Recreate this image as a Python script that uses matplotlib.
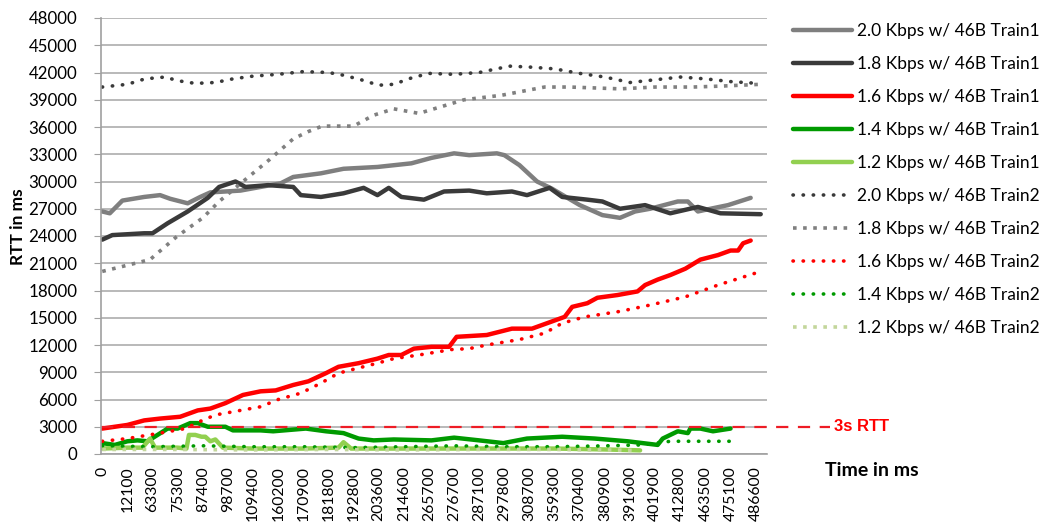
import matplotlib
matplotlib.use("Agg")
import matplotlib.pyplot as plt

# category labels along the time axis (one per tick)
time_labels = ["0", "12100", "63300", "75300", "87400", "98700", "109400", "160200",
               "170900", "181800", "192800", "203600", "214600", "265700", "276700",
               "287100", "297800", "308700", "359300", "370400", "380900", "391600",
               "401900", "412800", "463500", "475100", "486600"]

# Train1 runs (solid lines); x is the category position
t1_20_x = [0, 0.3, 0.8, 1.67, 2.3, 2.7, 3.4, 3.9, 4.3, 4.9, 5.5, 6.3, 7.1, 7.6, 8.7, 9.6,
           10.95, 12.3, 13.1, 14.0, 14.6, 15.7, 16.0, 16.6, 17.3, 17.9, 19.0, 19.9, 20.6,
           21.2, 21.8, 22.9, 23.3, 23.7, 24.2, 24.9, 25.8]
t1_20_y = [26700, 26500, 27900, 28300, 28500, 28100, 27600, 28300, 28800, 28900, 29000,
           29400, 29800, 30500, 30900, 31400, 31600, 32000, 32600, 33100, 32900, 33100,
           32900, 31800, 30000, 29200, 27400, 26300, 26000, 26700, 27000, 27800, 27800,
           26700, 27000, 27400, 28200]

t1_18_x = [0, 0.4, 1.67, 2.0, 2.6, 3.4, 4.2, 4.65, 5.3, 5.7, 6.6, 7.6, 7.9, 8.7, 9.6, 10.4,
           10.95, 11.4, 11.9, 12.8, 13.6, 14.6, 15.3, 16.3, 16.9, 17.8, 18.3, 19.3, 19.9,
           20.6, 21.6, 22.6, 23.7, 24.6, 26.2]
t1_18_y = [23600, 24100, 24300, 24300, 25400, 26700, 28200, 29400, 30000, 29400, 29600,
           29400, 28500, 28300, 28700, 29300, 28500, 29300, 28300, 28000, 28900, 29000,
           28700, 28900, 28500, 29300, 28300, 28000, 27800, 27000, 27400, 26500, 27200,
           26500, 26400]

t1_16_x = [0, 1.0, 1.67, 2.3, 3.1, 3.8, 4.3, 4.9, 5.6, 6.3, 6.9, 7.6, 8.2, 8.9, 9.4, 10.2,
           10.95, 11.4, 11.9, 12.4, 13.1, 13.8, 14.1, 15.3, 16.3, 17.1, 17.9, 18.4, 18.7,
           19.3, 19.7, 20.5, 21.3, 21.6, 22.1, 22.6, 23.2, 23.8, 24.5, 25.0, 25.3, 25.5, 25.8]
t1_16_y = [2800, 3200, 3700, 3900, 4100, 4800, 5000, 5600, 6500, 6900, 7000, 7600, 8000,
           8900, 9600, 10000, 10500, 10900, 10900, 11600, 11800, 11800, 12900, 13100, 13800,
           13800, 14600, 15100, 16200, 16600, 17200, 17500, 17900, 18600, 19200, 19700,
           20400, 21400, 21900, 22400, 22400, 23200, 23500]

t1_14_x = [0, 0.5, 1.0, 1.4, 1.8, 2.2, 2.6, 3.0, 3.5, 3.8, 4.2, 4.9, 5.2, 6.3, 6.8, 8.1,
           8.9, 9.6, 10.2, 10.8, 11.6, 13.1, 14.0, 15.0, 15.96, 16.9, 18.3, 19.6, 20.9,
           22.1, 22.3, 22.9, 23.3, 23.4, 23.8, 24.3, 25.0]
t1_14_y = [1200, 1000, 1400, 1500, 1400, 2100, 2800, 2800, 3400, 3400, 3000, 3000, 2600,
           2600, 2500, 2800, 2500, 2300, 1700, 1500, 1600, 1500, 1800, 1500, 1200, 1700,
           1900, 1700, 1400, 1000, 1700, 2500, 2300, 2800, 2800, 2500, 2800]

t1_12_x = [0, 1.0, 1.6, 1.9, 2.1, 3.0, 3.35, 3.45, 3.7, 3.95, 4.1, 4.3, 4.5, 4.8, 6.0,
           8.0, 9.4, 9.6, 9.9, 12.0, 14.0, 16.0, 18.0, 20.0, 21.4]
t1_12_y = [600, 700, 700, 1700, 700, 700, 600, 2100, 2100, 1900, 1900, 1400, 1600, 700,
           600, 600, 700, 1300, 600, 600, 600, 600, 600, 500, 400]

# Train2 runs (dotted lines)
t2_20_x = [0, 1, 1.7, 2.5, 3, 3.7, 4.5, 5.2, 6, 7, 8, 9, 9.6, 10.3, 11, 11.6, 12.3, 13, 14,
           15, 16.2, 17, 18, 19, 20, 21, 22, 23, 24, 25, 26.1]
t2_20_y = [40400, 40700, 41300, 41500, 41100, 40800, 40900, 41300, 41600, 41800, 42100,
           42000, 41700, 41200, 40600, 40700, 41400, 41900, 41800, 42000, 42700, 42600,
           42400, 41900, 41500, 40900, 41200, 41500, 41300, 41000, 40800]

t2_18_x = [0, 1.9, 2.95, 4.0, 4.65, 5.6, 6.65, 7.6, 8.2, 8.75, 10.0, 10.8, 11.6, 12.6, 14.4,
           15.9, 17.6, 18.6, 20.6, 22.0, 23.5, 24.6, 26.2]
t2_18_y = [20100, 21400, 23900, 26000, 27800, 30000, 32400, 34700, 35500, 36100, 36100,
           37300, 38000, 37500, 39000, 39500, 40400, 40400, 40200, 40400, 40400, 40500, 40700]

t2_16_x = [0, 1.0, 2.3, 3.3, 3.9, 4.5, 5.3, 6.3, 7.0, 7.9, 8.7, 9.4, 10.1, 10.95, 11.6, 12.6,
           13.9, 14.6, 15.3, 16.6, 17.6, 18.3, 19.2, 20.6, 21.8, 23.2, 23.8, 24.5, 25.3, 26.2]
t2_16_y = [1400, 1700, 2300, 2800, 3600, 4300, 4700, 5200, 6000, 6700, 7800, 8900, 9400,
           10000, 10500, 10900, 11500, 11600, 12000, 12600, 13300, 14400, 15100, 15700,
           16400, 17300, 17900, 18600, 19300, 20100]

t2_14_x = [0, 2, 4, 6, 8, 10, 12, 14, 16, 18, 20, 21.5, 22.6, 23.5, 25.0]
t2_14_y = [900, 800, 900, 800, 800, 700, 800, 900, 800, 800, 900, 1000, 1400, 1400, 1400]

t2_12_x = [0, 3, 6, 9, 12, 15, 18, 21.3]
t2_12_y = [500, 500, 450, 500, 450, 500, 500, 400]

rtt_limit = 3000

plt.rcParams['font.family'] = ['Lato', 'DejaVu Sans']

fig = plt.figure(figsize=(10.41, 5.26), dpi=100)
ax = fig.add_axes([101 / 1041, 72 / 526, 666 / 1041, 436 / 526])

solid = dict(linewidth=3.2, solid_capstyle='round', solid_joinstyle='round')
round_dot = dict(linewidth=2.6, linestyle=(0, (0.1, 2.7)), dash_capstyle='round')
square_dot = dict(linewidth=2.6, linestyle=(0, (1, 1.8)), dash_capstyle='butt')

ax.plot(t1_20_x, t1_20_y, color='#7f7f7f', label='2.0 Kbps w/ 46B Train1', **solid)
ax.plot(t1_18_x, t1_18_y, color='#3a3a3a', label='1.8 Kbps w/ 46B Train1', **solid)
ax.plot(t1_16_x, t1_16_y, color='#ff0000', label='1.6 Kbps w/ 46B Train1', **solid)
ax.plot(t1_14_x, t1_14_y, color='#009a00', label='1.4 Kbps w/ 46B Train1', **solid)
ax.plot(t1_12_x, t1_12_y, color='#92d050', label='1.2 Kbps w/ 46B Train1', **solid)
ax.plot(t2_20_x, t2_20_y, color='#3a3a3a', label='2.0 Kbps w/ 46B Train2', **round_dot)
ax.plot(t2_18_x, t2_18_y, color='#808080', label='1.8 Kbps w/ 46B Train2', **square_dot)
ax.plot(t2_16_x, t2_16_y, color='#ff0000', label='1.6 Kbps w/ 46B Train2', **round_dot)
ax.plot(t2_14_x, t2_14_y, color='#009a00', label='1.4 Kbps w/ 46B Train2', **round_dot)
ax.plot(t2_12_x, t2_12_y, color='#c3d69b', label='1.2 Kbps w/ 46B Train2', **square_dot)

# 3 s round-trip reference line, running out past the plot to its label
ax.plot([0, 1.095], [rtt_limit, rtt_limit], color='#ee1c25', linewidth=1.6,
        linestyle=(0, (5.5, 4.3)), transform=ax.get_yaxis_transform(), clip_on=False)
ax.text(1.10, rtt_limit, '3s RTT', transform=ax.get_yaxis_transform(), color='#ff0000',
        fontsize=12, fontweight='bold', family=['Liberation Sans'], va='center', ha='left')

ax.set_xlim(-0.05, 26.45)
ax.set_ylim(0, 48000)
ax.set_yticks(range(0, 48001, 3000))
ax.set_xticks(range(len(time_labels)))
ax.set_xticklabels(time_labels, rotation=90, fontsize=11.3)
ax.tick_params(axis='y', labelsize=12.2, length=5, color='#a0a0a0', pad=12)
ax.tick_params(axis='x', length=0, pad=9)

ax.grid(axis='y', color='#a6a6a6', linewidth=1.1)
ax.set_axisbelow(True)
for side in ['top', 'right']:
    ax.spines[side].set_visible(False)
for side in ['left', 'bottom']:
    ax.spines[side].set_color('#a0a0a0')
    ax.spines[side].set_linewidth(1.2)

fig.text(18 / 1041, 1 - 227 / 526, 'RTT in ms', rotation=90, fontsize=12.5,
         fontweight='bold', ha='center', va='center')
fig.text(825 / 1041, 1 - 470 / 526, 'Time in ms', fontsize=14, fontweight='bold',
         ha='left', va='center')

fig.legend(loc='upper left', bbox_to_anchor=(793 / 1041, 1 - 23 / 526), frameon=False,
           fontsize=12.5, handlelength=3.4, handletextpad=0.3, labelspacing=0.98,
           borderpad=0, borderaxespad=0)

fig.savefig('out.png', dpi=100)
